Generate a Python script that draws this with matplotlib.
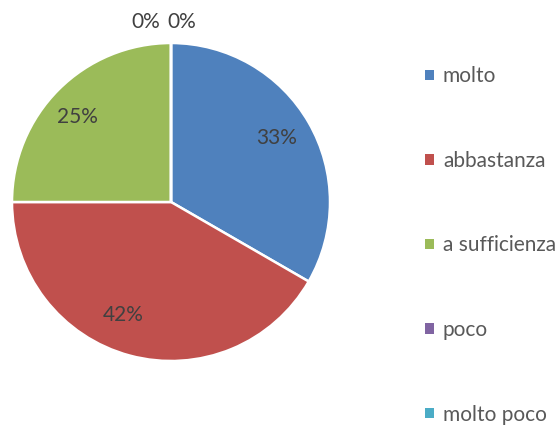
import matplotlib.pyplot as plt
from matplotlib.patches import Patch

# dati
categorie = ['molto', 'abbastanza', 'a sufficienza', 'poco', 'molto poco']
valori = [4, 5, 3, 0, 0]
colori = ['#4F81BD', '#C0504D', '#9BBB59', '#8064A2', '#4BACC6']

plt.rcParams['font.family'] = ['Lato', 'DejaVu Sans']

fig = plt.figure(figsize=(5.58, 4.28), dpi=100)
ax = fig.add_axes([12 / 558, (428 - 202 - 159) / 428, 318 / 558, 318 / 428])

wedges, testi, perc = ax.pie(valori, colors=colori, startangle=90, counterclock=False,
                             autopct='%1.0f%%', pctdistance=0.78, radius=1,
                             wedgeprops=dict(edgecolor='white', linewidth=1.8),
                             textprops=dict(color='#404040', fontsize=15))
ax.set_xlim(-1, 1)
ax.set_ylim(-1, 1)
ax.set_aspect('equal')

# posizioni delle etichette come in Excel (best fit)
pos_etichette = [(0.667, 0.40), (-0.30, -0.71), (-0.59, 0.535), (-0.157, 1.13), (0.066, 1.13)]
for t, p in zip(perc, pos_etichette):
    t.set_position(p)

maniglie = [Patch(facecolor=c, edgecolor='none') for c in colori]
fig.legend(maniglie, categorie, loc='center left', bbox_to_anchor=(0.762, 0.4265),
           frameon=False, fontsize=15, labelcolor='#595959', labelspacing=3.1,
           handlelength=0.4, handleheight=0.4, handletextpad=0.45,
           borderpad=0, borderaxespad=0)

fig.savefig('out.png', dpi=100)
